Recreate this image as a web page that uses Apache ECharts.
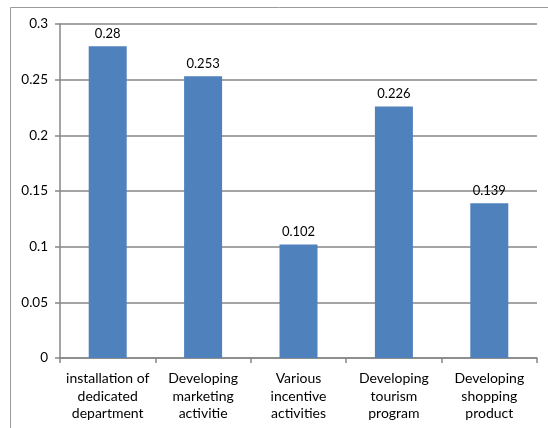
<!DOCTYPE html>
<html><head><meta charset="utf-8">
<script src="https://cdn.jsdelivr.net/npm/echarts@6/dist/echarts.min.js"></script>
<style>html,body{margin:0;padding:0;background:#fff}#c{width:548px;height:428px}</style>
</head><body><div id="c"></div>
<script>
const categories = ["installation of\ndedicated\ndepartment", "Developing\nmarketing\nactivitie", "Various\nincentive\nactivities", "Developing\ntourism\nprogram", "Developing\nshopping\nproduct"];
const values = [0.28, 0.253, 0.102, 0.226, 0.139];
const valueLabels = ["0.28", "0.253", "0.102", "0.226", "0.139"];
const yTicks = ["0", "0.05", "0.1", "0.15", "0.2", "0.25", "0.3"];

const chart = echarts.init(document.getElementById('c'), null, {renderer: 'canvas'});
const font = 'Lato, "Open Sans", sans-serif';
chart.setOption({
  animation: false,
  textStyle: {fontFamily: font},
  graphic: [{type: 'rect', shape: {x: 10.5, y: 7.5, width: 600, height: 500}, style: {fill: 'none', stroke: '#9a9a9a', lineWidth: 1}, z: -1}],
  grid: {left: 60, right: 11, top: 24, bottom: 70},
  xAxis: {
    type: 'category', data: categories,
    axisLine: {lineStyle: {color: '#868686', width: 1.5}},
    axisTick: {show: true, length: 5, lineStyle: {color: '#868686', width: 1.5}},
    axisLabel: {color: '#000', fontSize: 14, lineHeight: 17.5, margin: 12, fontFamily: font, interval: 0}
  },
  yAxis: {
    type: 'value', min: 0, max: 0.3, interval: 0.05,
    axisLine: {show: true, lineStyle: {color: '#868686', width: 1.5}},
    axisTick: {show: true, length: 5, lineStyle: {color: '#868686', width: 1.5}},
    splitLine: {lineStyle: {color: '#868686', width: 1.5}},
    axisLabel: {color: '#000', fontSize: 13.5, margin: 12, fontFamily: font,
      formatter: v => yTicks[Math.round(v / 0.05)]}
  },
  series: [{
    type: 'bar', data: values, barWidth: 38,
    itemStyle: {color: '#4F81BD'},
    label: {show: true, position: 'top', color: '#000', fontSize: 13, distance: 6, fontFamily: font,
      formatter: p => valueLabels[p.dataIndex]}
  }]
});
</script></body></html>
